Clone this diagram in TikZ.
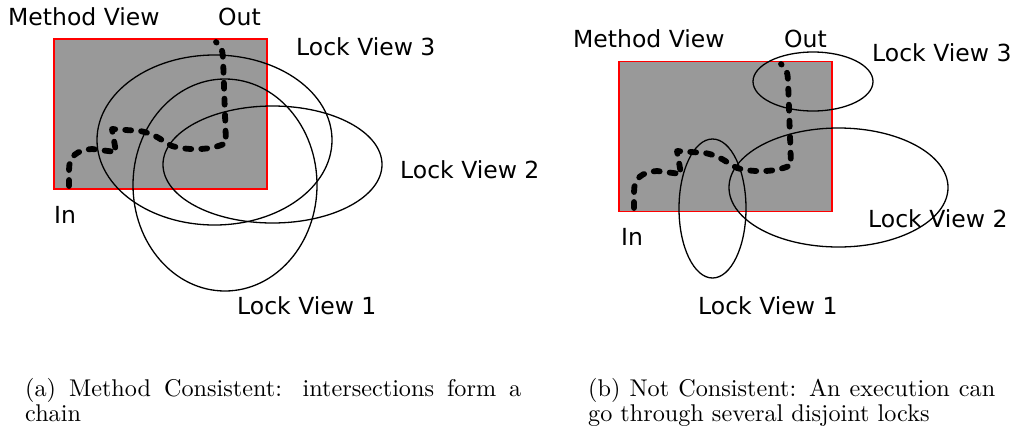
\documentclass[tikz,border=0pt]{standalone}
\usepackage{graphicx}
\usepackage{fontspec}
\newfontfamily\labelfont{DejaVu Sans}
\usetikzlibrary{shapes.geometric}
\definecolor{viewgray}{HTML}{999999}
\definecolor{viewred}{HTML}{FF0000}
\tikzset{
  methodbox/.style={draw=viewred, fill=viewgray, line width=1.4pt, inner sep=0pt,
    minimum width=213pt, minimum height=150pt},
  lockell/.style={ellipse, draw=black, line width=1.3pt, inner sep=0pt},
  lbl/.style={font=\labelfont\fontsize{23.5}{26}\selectfont, inner sep=0pt, anchor=west},
  execpath/.style={line width=5.8pt, dash pattern=on 6pt off 10pt, line cap=round, line join=round},
  captionbox/.style={inner sep=0pt, anchor=north west},
}
\newcommand\capttext[2]{\scalebox{2.42}{\parbox[t]{#1}{\fontsize{10}{10.55}\selectfont #2}}}
\begin{document}
\begin{tikzpicture}[x=1pt, y=-1pt]
\useasboundingbox (0,0) rectangle (1011,432);

% ---------- (a) ----------
\node[methodbox] (am) at (160.5,114) {};
\node[lockell, minimum width=235pt, minimum height=170pt] (al3) at (214.5,140) {};
\node[lockell, minimum width=184pt, minimum height=212pt] (al1) at (225,185) {};
\node[lockell, minimum width=219pt, minimum height=117pt] (al2) at (272.5,164.5) {};
\coordinate (ain) at (69,186);
\coordinate (aout) at (216,42);
\draw[execpath] (ain) -- (69,170) .. controls (69,156) and (77,150) .. (92,149) -- (116,152) -- (112,129) -- (140,131)
  .. controls (156,134) and (162,141) .. (172,146) .. controls (190,151) and (212,150) .. (226,143)
  -- (223,58) .. controls (222,48) .. (aout);
\node[lbl] (amv) at (8,17) {Method View};
\node[lbl] (aot) at (218,17) {Out};
\node[lbl] (alv3) at (296,47) {Lock View 3};
\node[lbl] (alv2) at (400,170) {Lock View 2};
\node[lbl] (ai) at (54,214.5) {In};
\node[lbl] (alv1) at (237,305.5) {Lock View 1};
\node[captionbox] (acap) at (25,378) {\capttext{205pt}{(a) Method Consistent: intersections form a chain}};

% ---------- (b) ----------
\node[methodbox] (bm) at (725.5,136.5) {};
\node[lockell, minimum width=120pt, minimum height=59pt] (bl3) at (813,81.5) {};
\node[lockell, minimum width=67pt, minimum height=139pt] (bl1) at (712.5,208.5) {};
\node[lockell, minimum width=219pt, minimum height=119pt] (bl2) at (838.5,187.5) {};
\begin{scope}[shift={(565,22)}]
\coordinate (bin) at (69,186);
\coordinate (bout) at (216,42);
\draw[execpath] (bin) -- (69,170) .. controls (69,156) and (77,150) .. (92,149) -- (116,152) -- (112,129) -- (140,131)
  .. controls (156,134) and (162,141) .. (172,146) .. controls (190,151) and (212,150) .. (226,143)
  -- (223,58) .. controls (222,48) .. (bout);
\end{scope}
\node[lbl] (bmv) at (573,39) {Method View};
\node[lbl] (bot) at (784,39) {Out};
\node[lbl] (blv3) at (872,53) {Lock View 3};
\node[lbl] (blv2) at (868,219) {Lock View 2};
\node[lbl] (bi) at (621,236.5) {In};
\node[lbl] (blv1) at (698,305.5) {Lock View 1};
\node[captionbox] (bcap) at (588,378) {\capttext{168.2pt}{(b) Not Consistent: An execution can go through several disjoint locks}};
\end{tikzpicture}
\end{document}
